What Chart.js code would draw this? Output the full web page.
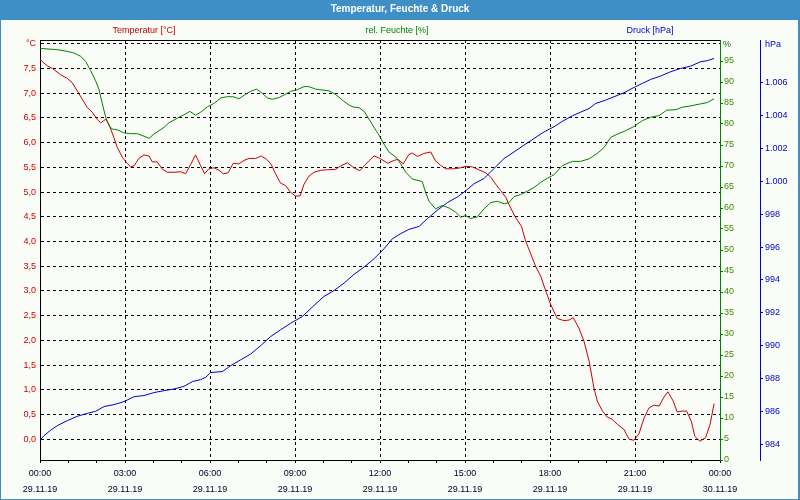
<!DOCTYPE html>
<html>
<head>
<meta charset="utf-8">
<title>Temperatur, Feuchte & Druck</title>
<script src="https://cdn.jsdelivr.net/npm/chart.js@4/dist/chart.umd.min.js"></script>
<style>
    html, body { margin: 0; padding: 0; background: #fafcf8; }
    #wrap { width: 800px; height: 500px; }
</style>
</head>
<body>
<div id="wrap"><canvas id="lineChart" width="800" height="500"></canvas></div>
<script>
// Temperatur [°C] - hours since 00:00 on 29.11.19
const tempHours = [0.00, 0.26, 0.44, 0.73, 0.96, 1.14, 1.32, 1.49, 1.67, 1.85, 2.02, 2.14, 2.32, 2.44, 2.59, 2.73, 2.91,
    3.06, 3.20, 3.32, 3.49, 3.67, 3.85, 3.96, 4.14, 4.32, 4.49, 4.73, 4.96, 5.14, 5.32, 5.49, 5.67, 5.81, 5.96, 6.14,
    6.32, 6.47, 6.64, 6.82, 7.02, 7.20, 7.38, 7.61, 7.81, 8.00, 8.16, 8.32, 8.49, 8.67, 8.85, 9.02, 9.18, 9.32, 9.49,
    9.67, 9.91, 10.14, 10.44, 10.61, 10.85, 11.08, 11.29, 11.44, 11.61, 11.79, 11.96, 12.14,
    12.28, 12.49, 12.64, 12.82, 13.02, 13.14, 13.32, 13.55, 13.79, 13.96, 14.14, 14.32, 14.61, 14.85, 15.02, 15.26,
    15.49, 15.73, 15.91, 16.08, 16.26, 16.44, 16.61, 16.79, 16.99, 17.14, 17.32, 17.49, 17.67, 17.85, 18.02, 18.14,
    18.26, 18.49, 18.67, 18.82, 19.02, 19.20, 19.38, 19.55, 19.67, 19.85, 20.02, 20.20, 20.38, 20.61, 20.79, 20.96,
    21.14, 21.32, 21.49, 21.67, 21.85, 22.02, 22.16, 22.35, 22.49, 22.67, 22.82, 22.99, 23.11, 23.29, 23.49, 23.65, 23.79];
const tempValues = [7.68, 7.55, 7.50, 7.37, 7.30, 7.21, 7.04, 6.88, 6.71, 6.61, 6.47, 6.40, 6.47, 6.36, 6.13, 5.90, 5.70,
    5.59, 5.51, 5.53, 5.68, 5.75, 5.73, 5.61, 5.61, 5.46, 5.40, 5.40, 5.41, 5.37, 5.56, 5.75, 5.53, 5.37, 5.47, 5.49,
    5.44, 5.37, 5.39, 5.58, 5.57, 5.64, 5.68, 5.68, 5.73, 5.66, 5.56, 5.36, 5.18, 5.13, 4.99, 4.92, 4.92, 5.16, 5.32,
    5.40, 5.44, 5.45, 5.46, 5.53, 5.59, 5.49, 5.43, 5.53, 5.63, 5.73, 5.69, 5.63,
    5.58, 5.64, 5.66, 5.57, 5.76, 5.79, 5.72, 5.78, 5.81, 5.63, 5.54, 5.47, 5.47, 5.49, 5.52, 5.51,
    5.45, 5.39, 5.30, 5.16, 5.03, 4.89, 4.68, 4.48, 4.31, 4.01, 3.75, 3.50, 3.30, 3.00, 2.73, 2.58,
    2.44, 2.40, 2.41, 2.46, 2.25, 1.98, 1.58, 1.04, 0.77, 0.57, 0.45, 0.40, 0.30, 0.20, 0.00, -0.02,
    0.11, 0.43, 0.63, 0.69, 0.67, 0.85, 0.96, 0.77, 0.55, 0.57, 0.57, 0.36, 0.06, -0.04, 0.03, 0.30, 0.72];

// rel. Feuchte [%]
const humHours = [0.00, 0.61, 0.96, 1.20, 1.44, 1.61, 1.79, 1.96, 2.08, 2.20, 2.32, 2.44, 2.55, 2.73, 2.96, 3.20, 3.44,
    3.67, 3.85, 4.02, 4.20, 4.38, 4.55, 4.85, 5.08, 5.29, 5.49, 5.67, 5.91, 6.14,
    6.38, 6.61, 6.82, 7.02, 7.26, 7.44, 7.65, 7.85, 8.02, 8.20, 8.44, 8.67, 8.85, 9.06, 9.32, 9.49, 9.73, 9.96,
    10.20, 10.44, 10.67, 10.91, 11.08, 11.26, 11.44, 11.61, 11.79, 11.96, 12.14,
    12.32, 12.55, 12.73, 12.91, 13.14, 13.49, 13.61, 13.73, 13.96, 14.20, 14.44, 14.67, 14.85, 15.02, 15.20, 15.44,
    15.67, 15.91, 16.14, 16.38, 16.55, 16.73, 16.96, 17.20, 17.44, 17.67, 17.91, 18.14,
    18.44, 18.79, 19.08, 19.38, 19.67, 19.91, 20.14, 20.38, 20.67, 20.96, 21.26, 21.55, 21.85, 22.12, 22.44, 22.67,
    22.96, 23.32, 23.55, 23.79];
const humValues = [98.0, 97.7, 97.3, 96.9, 96.1, 94.9, 92.7, 90.3, 88.3, 84.8, 81.6, 79.6, 78.8, 78.6, 77.9, 77.7, 77.7,
    77.1, 76.6, 77.6, 78.4, 79.2, 80.3, 81.4, 82.2, 83.0, 82.1, 82.8, 84.1, 84.9,
    86.2, 86.5, 86.5, 86.0, 87.1, 87.8, 88.3, 87.3, 86.2, 85.9, 86.3, 87.1, 87.8, 88.1, 88.9, 88.9, 88.3, 88.1,
    87.9, 87.0, 85.7, 84.5, 84.0, 83.9, 83.0, 81.2, 79.2, 77.4, 75.2,
    73.3, 72.2, 70.5, 68.5, 66.9, 66.3, 63.7, 61.6, 59.8, 60.6, 60.0, 59.0, 57.8, 58.2, 57.5, 57.9,
    59.8, 61.3, 61.6, 61.0, 61.3, 62.7, 63.2, 64.0, 64.9, 66.1, 67.1, 67.9,
    70.1, 71.1, 71.1, 71.7, 73.0, 74.4, 76.8, 77.6, 78.4, 79.4, 80.8, 81.6, 82.0, 83.3, 83.4, 84.0,
    84.3, 84.8, 85.1, 86.0];

// Druck [hPa]
const pressHours = [0.00, 0.14, 0.38, 0.61, 0.96, 1.32, 1.67, 1.96, 2.26, 2.61, 2.96, 3.32, 3.67, 4.02, 4.38, 4.73,
    5.08, 5.38, 5.67, 5.85, 6.02, 6.44, 6.73, 7.08, 7.44, 7.79, 8.14, 8.49, 8.85, 9.26, 9.67, 10.02, 10.38, 10.73,
    11.08, 11.44, 11.79, 12.14, 12.44, 12.73, 13.02, 13.38, 13.67, 14.02, 14.38, 14.73, 15.02, 15.32, 15.67, 16.02,
    16.38, 16.73, 17.08, 17.44, 17.79, 18.14, 18.44, 18.79, 19.08, 19.38, 19.61, 19.96, 20.26, 20.61, 20.96, 21.26,
    21.55, 21.91, 22.26, 22.61, 22.96, 23.32, 23.55, 23.79];
const pressValues = [984.26, 984.53, 984.87, 985.14, 985.44, 985.71, 985.89, 986.01, 986.30, 986.42, 986.60, 986.90,
    986.97, 987.15, 987.27, 987.37, 987.53, 987.82, 987.94, 988.08, 988.37, 988.43, 988.79, 989.14, 989.50, 990.01,
    990.56, 990.97, 991.37, 991.78, 992.45, 993.00, 993.36, 993.81, 994.34, 994.79, 995.29, 995.90, 996.51, 996.82,
    997.08, 997.26, 997.73, 998.24, 998.71, 999.05, 999.42, 999.86, 1000.17, 1000.78, 1001.39, 1001.79, 1002.20,
    1002.61, 1003.01, 1003.32, 1003.66, 1003.99, 1004.21, 1004.43, 1004.74, 1004.94, 1005.15, 1005.39, 1005.71,
    1005.96, 1006.20, 1006.41, 1006.67, 1006.87, 1007.01, 1007.28, 1007.34, 1007.48];

// axis labels
const hourLabels = ['00:00', '03:00', '06:00', '09:00', '12:00', '15:00', '18:00', '21:00', '00:00'];
const dateLabels = ['29.11.19', '29.11.19', '29.11.19', '29.11.19', '29.11.19', '29.11.19', '29.11.19', '29.11.19', '30.11.19'];
const seriesNames = ['Temperatur [°C]', 'rel. Feuchte [%]', 'Druck [hPa]'];

const FONT = '"Liberation Sans", Arial, sans-serif';
const RED = '#cc0000', GREEN = '#008000', BLUE = '#0000cc', FRAME = '#3d8fc6';

Chart.defaults.font.family = FONT;
Chart.defaults.font.size = 9;

function toPoints(xs, ys) {
    return xs.map((x, i) => ({x: x, y: ys[i]}));
}

// frame, title bar and header texts
const decorPlugin = {
    id: 'decor',
    beforeDraw(chart) {
        const ctx = chart.ctx;
        ctx.save();
        ctx.fillStyle = '#fafcf8';
        ctx.fillRect(0, 0, 800, 500);
        ctx.fillStyle = FRAME;
        ctx.fillRect(0, 0, 800, 20);      // title band
        ctx.fillRect(0, 0, 1, 500);       // left border
        ctx.fillRect(798, 0, 2, 500);     // right border
        ctx.fillRect(0, 499, 800, 1);     // bottom border
        ctx.restore();
    },
    afterDraw(chart) {
        const ctx = chart.ctx, a = chart.chartArea;
        ctx.save();
        ctx.fillStyle = '#000';
        ctx.fillRect(a.left, a.top, a.right - a.left, 1);   // top edge of plot

        ctx.textBaseline = 'middle';
        ctx.textAlign = 'center';
        ctx.fillStyle = '#ffffff';
        ctx.font = 'bold 10px ' + FONT;
        ctx.fillText('Temperatur, Feuchte & Druck', 400, 9);

        ctx.font = '9px ' + FONT;
        const headColors = [RED, GREEN, BLUE];
        const headX = [144, 397, 650];
        seriesNames.forEach((name, i) => {
            ctx.fillStyle = headColors[i];
            ctx.fillText(name, headX[i], 31);
        });

        ctx.textAlign = 'left';
        ctx.fillStyle = GREEN;
        ctx.fillText('%', 723, 45);
        ctx.fillStyle = BLUE;
        ctx.fillText('hPa', 765, 45);
        ctx.restore();
    }
};

const lineChart = new Chart(document.getElementById('lineChart'), {
    type: 'line',
    data: {
        datasets: [
            {
                label: seriesNames[1],
                data: toPoints(humHours, humValues),
                yAxisID: 'y1',
                borderColor: GREEN,
                borderWidth: 1,
                pointRadius: 0,
                tension: 0
            },
            {
                label: seriesNames[2],
                data: toPoints(pressHours, pressValues),
                yAxisID: 'y2',
                borderColor: BLUE,
                borderWidth: 1,
                pointRadius: 0,
                tension: 0
            },
            {
                label: seriesNames[0],
                data: toPoints(tempHours, tempValues),
                yAxisID: 'y',
                borderColor: RED,
                borderWidth: 1,
                pointRadius: 0,
                tension: 0
            }
        ]
    },
    options: {
        responsive: false,
        animation: false,
        layout: {
            padding: {top: 40, left: 0, right: 2, bottom: 1}
        },
        plugins: {
            legend: {display: false},
            title: {display: false},
            tooltip: {enabled: false}
        },
        scales: {
            x: {
                type: 'linear',
                min: 0,
                max: 24,
                afterFit: (scale) => { scale.height = 39; },
                ticks: {
                    stepSize: 1,
                    autoSkip: false,
                    maxRotation: 0,
                    padding: 2,
                    color: '#000022',
                    font: {size: 9, lineHeight: 1.8},
                    callback: (v) => v % 3 === 0 ? [hourLabels[v / 3], dateLabels[v / 3]] : ''
                },
                grid: {
                    color: (ctx) => (ctx.tick && ctx.tick.value % 3 === 0 && ctx.tick.value > 0 && ctx.tick.value < 24) ? '#000' : 'rgba(0,0,0,0)',
                    tickColor: '#000',
                    tickLength: 3
                },
                border: {color: '#000', dash: [3, 3]}
            },
            y: {
                position: 'left',
                min: -0.42,
                max: 8.075,          // not a whole number of steps, so ticks stay on 0,0 ... 8,0
                afterFit: (scale) => { scale.width = 40; },
                ticks: {
                    stepSize: 0.5,
                    includeBounds: false,
                    padding: 4,
                    color: RED,
                    callback: (v) => v === 8 ? '°C' : v.toFixed(1).replace('.', ',')
                },
                grid: {
                    color: '#000',
                    drawTicks: false
                },
                border: {color: '#000', dash: [3, 3]}
            },
            y1: {
                position: 'right',
                weight: 0,
                min: 0,
                max: 100,
                afterFit: (scale) => { scale.width = 40; },
                ticks: {
                    stepSize: 5,
                    padding: 1,
                    color: '#3a8a00',
                    callback: (v) => v === 100 ? '' : String(v)
                },
                grid: {
                    drawOnChartArea: false,
                    tickLength: 3,
                    tickColor: (ctx) => (ctx.tick && ctx.tick.value === 100) ? 'rgba(0,0,0,0)' : GREEN
                },
                border: {color: GREEN}
            },
            y2: {
                position: 'right',
                weight: 1,
                min: 983.05,
                max: 1008.6,
                afterFit: (scale) => { scale.width = 38; },
                ticks: {
                    stepSize: 2,
                    includeBounds: false,
                    padding: 2,
                    color: BLUE,
                    callback: (v) => v > 1006 ? '' : (v >= 1000 ? '1.' + String(v - 1000).padStart(3, '0') : String(v))
                },
                grid: {
                    drawOnChartArea: false,
                    tickLength: 3,
                    tickColor: (ctx) => (ctx.tick && ctx.tick.value > 1006) ? 'rgba(0,0,0,0)' : BLUE
                },
                border: {color: BLUE}
            }
        }
    },
    plugins: [decorPlugin]
});
</script>
</body>
</html>
